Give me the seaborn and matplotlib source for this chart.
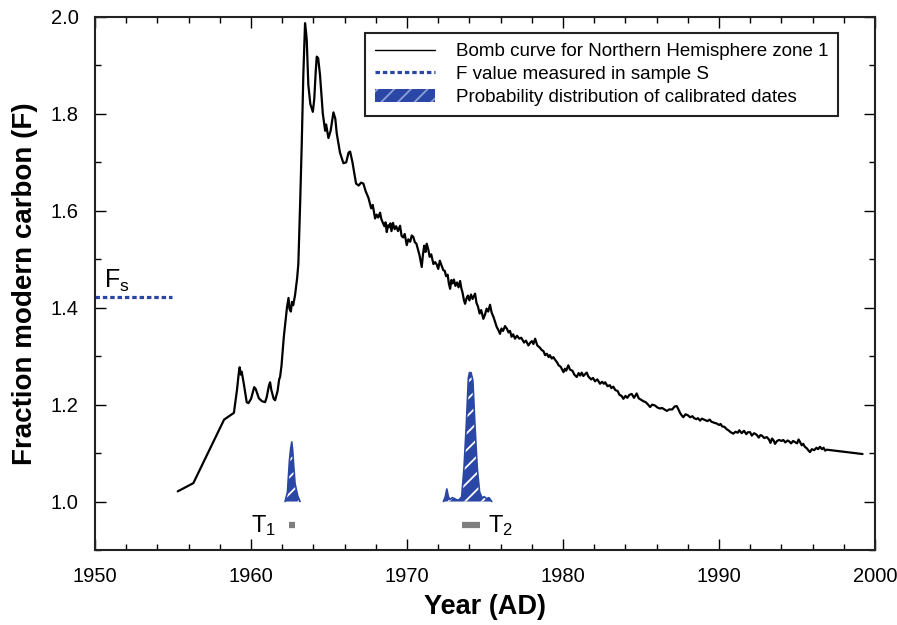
import numpy as np
import pandas as pd
import matplotlib
matplotlib.use("Agg")
import matplotlib.pyplot as plt
from matplotlib.lines import Line2D
from matplotlib.patches import Patch
from matplotlib.ticker import MultipleLocator
import seaborn as sns

# bomb curve, northern hemisphere zone 1
year = [1955.3, 1956.3, 1958.27, 1958.9, 1959.1, 1959.2, 1959.27, 1959.33, 1959.4, 1959.55,
        1959.72, 1959.83, 1960.0, 1960.2, 1960.3, 1960.5, 1960.7, 1960.9, 1961.0, 1961.15,
        1961.22, 1961.3, 1961.45, 1961.54, 1961.7, 1961.8, 1961.86, 1961.95, 1962.1, 1962.2,
        1962.3, 1962.4, 1962.46, 1962.55, 1962.62, 1962.7, 1962.82, 1962.95, 1963.03, 1963.15,
        1963.25, 1963.35, 1963.46, 1963.52, 1963.57, 1963.67, 1963.8, 1963.96, 1964.05, 1964.15,
        1964.21, 1964.3, 1964.42, 1964.6, 1964.75, 1964.81, 1964.96, 1965.1, 1965.28, 1965.4,
        1965.49, 1965.7, 1965.92, 1966.1, 1966.25, 1966.35, 1966.5, 1966.73, 1966.9, 1967.05,
        1967.2, 1967.35, 1967.52, 1967.62, 1967.7, 1967.8, 1967.95, 1968.05, 1968.15, 1968.27,
        1968.35, 1968.45, 1968.55, 1968.62, 1968.7, 1968.78, 1968.85, 1968.93, 1969.0, 1969.1,
        1969.2, 1969.3, 1969.42, 1969.55, 1969.65, 1969.75, 1969.85, 1969.98, 1970.08, 1970.2,
        1970.3, 1970.4, 1970.5, 1970.6, 1970.7, 1970.8, 1970.94, 1971.02, 1971.1, 1971.18,
        1971.26, 1971.36, 1971.45, 1971.55, 1971.69, 1971.8, 1971.9, 1972.0, 1972.1, 1972.2,
        1972.33, 1972.42, 1972.5, 1972.6, 1972.68, 1972.76, 1972.84, 1972.92, 1973.0, 1973.1,
        1973.2, 1973.3, 1973.4, 1973.48, 1973.55, 1973.65, 1973.72, 1973.82, 1973.9, 1974.0,
        1974.1, 1974.2, 1974.36, 1974.45, 1974.55, 1974.65, 1974.75, 1974.89, 1975.0, 1975.1,
        1975.2, 1975.32, 1975.42, 1975.55, 1975.65, 1975.75, 1975.85, 1975.96, 1976.05, 1976.15,
        1976.28, 1976.41, 1976.5, 1976.6, 1976.7, 1976.8, 1976.92, 1977.05, 1977.2, 1977.32,
        1977.5, 1977.62, 1977.78, 1977.9, 1978.0, 1978.1, 1978.21, 1978.35, 1978.5, 1978.62,
        1978.75, 1978.85, 1978.96, 1979.08, 1979.15, 1979.28, 1979.38, 1979.5, 1979.6, 1979.72,
        1979.85, 1979.95, 1980.03, 1980.12, 1980.2, 1980.34, 1980.45, 1980.6, 1980.72, 1980.88,
        1981.0, 1981.1, 1981.2, 1981.3, 1981.42, 1981.52, 1981.62, 1981.8, 1981.92, 1982.05,
        1982.2, 1982.37, 1982.5, 1982.62, 1982.7, 1982.85, 1983.0, 1983.1, 1983.22, 1983.35,
        1983.5, 1983.62, 1983.75, 1983.87, 1984.0, 1984.12, 1984.25, 1984.4, 1984.55, 1984.72,
        1984.85, 1985.0, 1985.15, 1985.3, 1985.45, 1985.58, 1985.72, 1985.9, 1986.05, 1986.2,
        1986.35, 1986.5, 1986.65, 1986.8, 1987.0, 1987.15, 1987.29, 1987.4, 1987.5, 1987.6,
        1987.71, 1987.85, 1988.0, 1988.15, 1988.3, 1988.4, 1988.55, 1988.65, 1988.78, 1988.9,
        1989.1, 1989.25, 1989.4, 1989.5, 1989.65, 1989.85, 1990.0, 1990.1, 1990.2, 1990.35,
        1990.5, 1990.6, 1990.75, 1990.92, 1991.05, 1991.2, 1991.3, 1991.45, 1991.6, 1991.75,
        1991.85, 1991.99, 1992.1, 1992.25, 1992.4, 1992.55, 1992.65, 1992.75, 1992.9, 1993.06,
        1993.2, 1993.3, 1993.4, 1993.5, 1993.59, 1993.72, 1993.85, 1994.0, 1994.12, 1994.25,
        1994.4, 1994.5, 1994.62, 1994.75, 1994.85, 1995.0, 1995.1, 1995.19, 1995.3, 1995.4,
        1995.5, 1995.62, 1995.72, 1995.83, 1995.95, 1996.1, 1996.25, 1996.35, 1996.47, 1996.6,
        1996.7, 1996.8, 1996.9, 1999.2]
fmc = [1.021, 1.038, 1.169, 1.183, 1.231, 1.262, 1.277, 1.262, 1.268, 1.24,
       1.205, 1.203, 1.212, 1.236, 1.232, 1.213, 1.207, 1.205, 1.215, 1.24,
       1.246, 1.23, 1.212, 1.209, 1.228, 1.252, 1.257, 1.28, 1.34, 1.37,
       1.40, 1.42, 1.398, 1.392, 1.412, 1.405, 1.426, 1.46, 1.49, 1.62,
       1.74, 1.88, 1.987, 1.97, 1.952, 1.86, 1.82, 1.804, 1.83, 1.89,
       1.918, 1.915, 1.88, 1.80, 1.765, 1.778, 1.75, 1.765, 1.803, 1.79,
       1.76, 1.72, 1.698, 1.70, 1.72, 1.722, 1.70, 1.656, 1.652, 1.658,
       1.656, 1.64, 1.627, 1.615, 1.605, 1.612, 1.584, 1.592, 1.586, 1.596,
       1.583, 1.575, 1.568, 1.576, 1.556, 1.57, 1.566, 1.574, 1.558, 1.575,
       1.562, 1.568, 1.558, 1.569, 1.548, 1.545, 1.552, 1.529, 1.541, 1.536,
       1.549, 1.546, 1.535, 1.532, 1.52, 1.508, 1.484, 1.51, 1.528, 1.515,
       1.532, 1.52, 1.505, 1.51, 1.49, 1.494, 1.489, 1.48, 1.497, 1.488,
       1.477, 1.476, 1.465, 1.468, 1.45, 1.439, 1.457, 1.45, 1.458, 1.445,
       1.452, 1.442, 1.455, 1.44, 1.432, 1.415, 1.408, 1.42, 1.425, 1.415,
       1.427, 1.418, 1.429, 1.41, 1.402, 1.388, 1.395, 1.377, 1.386, 1.398,
       1.392, 1.406, 1.39, 1.38, 1.37, 1.36, 1.354, 1.346, 1.357, 1.352,
       1.362, 1.356, 1.349, 1.352, 1.34, 1.345, 1.336, 1.342, 1.336, 1.338,
       1.328, 1.332, 1.322, 1.328, 1.331, 1.325, 1.336, 1.322, 1.318, 1.313,
       1.31, 1.302, 1.305, 1.298, 1.302, 1.295, 1.298, 1.292, 1.288, 1.281,
       1.278, 1.272, 1.267, 1.274, 1.27, 1.281, 1.272, 1.27, 1.262, 1.257,
       1.265, 1.26, 1.266, 1.259, 1.263, 1.266, 1.258, 1.252, 1.255, 1.248,
       1.252, 1.243, 1.247, 1.243, 1.246, 1.238, 1.24, 1.234, 1.237, 1.23,
       1.228, 1.22, 1.218, 1.212, 1.218, 1.214, 1.22, 1.222, 1.214, 1.223,
       1.213, 1.21, 1.207, 1.205, 1.2, 1.195, 1.2, 1.198, 1.194, 1.192,
       1.193, 1.19, 1.187, 1.19, 1.19, 1.196, 1.197, 1.19, 1.183, 1.178,
       1.174, 1.18, 1.178, 1.174, 1.176, 1.172, 1.17, 1.172, 1.167, 1.171,
       1.168, 1.166, 1.169, 1.165, 1.163, 1.161, 1.158, 1.16, 1.155, 1.154,
       1.149, 1.147, 1.143, 1.14, 1.144, 1.142, 1.147, 1.141, 1.146, 1.139,
       1.143, 1.143, 1.136, 1.141, 1.138, 1.132, 1.137, 1.136, 1.131, 1.133,
       1.128, 1.121, 1.13, 1.126, 1.119, 1.125, 1.127, 1.125, 1.127, 1.122,
       1.126, 1.124, 1.12, 1.125, 1.123, 1.12, 1.128, 1.123, 1.116, 1.119,
       1.113, 1.11, 1.106, 1.102, 1.108, 1.106, 1.111, 1.108, 1.113, 1.108,
       1.111, 1.105, 1.107, 1.098]

# calibrated date probability distributions (drawn from F = 1.0)
t1_year = [1962.18, 1962.33, 1962.46, 1962.54, 1962.61, 1962.67, 1962.71, 1962.82, 1962.99, 1963.14]
t1_prob = [1.0, 1.019, 1.085, 1.11, 1.123, 1.105, 1.085, 1.037, 1.012, 1.0]
t2_year = [1972.33, 1972.45, 1972.55, 1972.65, 1972.75, 1972.9, 1973.05, 1973.2, 1973.35, 1973.5,
           1973.65, 1973.8, 1973.93, 1974.0, 1974.1, 1974.22, 1974.35, 1974.5, 1974.65, 1974.8,
           1974.95, 1975.1, 1975.25, 1975.43]
t2_prob = [1.0, 1.01, 1.026, 1.01, 1.004, 1.008, 1.006, 1.003, 1.004, 1.01,
           1.07, 1.16, 1.255, 1.266, 1.266, 1.25, 1.16, 1.07, 1.02, 1.008,
           1.01, 1.006, 1.008, 1.0]

fs_value = 1.421
t1_range = [1962.45, 1962.8]
t2_range = [1973.5, 1974.7]

blue = "#2b47a6"

sns.set_style("ticks")
plt.rcParams["font.family"] = ["Liberation Sans", "DejaVu Sans"]
plt.rcParams["mathtext.fontset"] = "custom"
plt.rcParams["mathtext.rm"] = "Liberation Sans"
plt.rcParams["mathtext.it"] = "Liberation Sans"
plt.rcParams["hatch.linewidth"] = 1.3
plt.rcParams["text.color"] = "black"
plt.rcParams["axes.labelcolor"] = "black"
plt.rcParams["xtick.color"] = "black"
plt.rcParams["ytick.color"] = "black"

fig = plt.figure(figsize=(8.97, 6.25), dpi=100)
ax = fig.add_axes([0.106, 0.12, 0.8695, 0.853])

curve = pd.DataFrame({"year": year, "F": fmc})
sns.lineplot(data=curve, x="year", y="F", color="black", lw=1.6, ax=ax)

# probability peaks: blue fill, white hatch on top
for xs, ys in [(t1_year, t1_prob), (t2_year, t2_prob)]:
    ax.fill_between(xs, 1.0, ys, facecolor=blue, edgecolor="none", zorder=3)
    ax.fill_between(xs, 1.0, ys, facecolor="none", edgecolor="white", hatch="//", lw=0, zorder=4)
    ax.plot(xs, ys, color=blue, lw=1.2, zorder=5)

# measured F in sample S
ax.plot([1950, 1954.9], [fs_value, fs_value], color=blue, lw=2.3,
        linestyle=(0, (1.4, 0.9)), solid_capstyle="butt")
ax.text(1951.4, 1.455, r"F$_\mathrm{s}$", fontsize=18, ha="center", va="center")

# date ranges
for rng in [t1_range, t2_range]:
    ax.plot(rng, [0.951, 0.951], color="#7f7f7f", lw=4.5, solid_capstyle="butt")
ax.text(1961.6, 0.950, r"T$_\mathrm{1}$", fontsize=17, ha="right", va="center")
ax.text(1975.2, 0.950, r"T$_\mathrm{2}$", fontsize=17, ha="left", va="center")

ax.set_xlim(1950, 2000)
ax.set_ylim(0.9, 2.0)
ax.set_yticks([1.0, 1.2, 1.4, 1.6, 1.8, 2.0])
ax.set_yticklabels(["1.0", "1.2", "1.4", "1.6", "1.8", "2.0"])
ax.xaxis.set_major_locator(MultipleLocator(10))
ax.xaxis.set_minor_locator(MultipleLocator(2))
ax.yaxis.set_minor_locator(MultipleLocator(0.1))
ax.tick_params(which="both", direction="in", top=True, right=True, width=1.0)
ax.tick_params(which="major", length=8, labelsize=14.5, pad=12)
ax.tick_params(which="minor", length=4.5)
for s in ax.spines.values():
    s.set_linewidth(1.5)
    s.set_color("#222222")

ax.set_xlabel("Year (AD)", fontsize=19.5, fontweight="bold", labelpad=6)
ax.set_ylabel("Fraction modern carbon (F)", fontsize=20, fontweight="bold", labelpad=9)

handles = [Line2D([], [], color="black", lw=1.0),
           Line2D([], [], color=blue, lw=2.3, linestyle=(0, (1.4, 0.9))),
           Patch(facecolor=blue, edgecolor="#8fa0d8", hatch="//", lw=0)]
labels = ["Bomb curve for Northern Hemisphere zone 1",
          "F value measured in sample S",
          "Probability distribution of calibrated dates"]
leg = ax.legend(handles, labels, loc="upper right", bbox_to_anchor=(0.953, 0.970),
                fontsize=13.5, frameon=True, fancybox=False, edgecolor="#222222",
                framealpha=1, handlelength=3.2, handletextpad=1.1, labelspacing=0.3,
                borderpad=0.55, borderaxespad=0)
leg.get_frame().set_linewidth(1.5)

fig.savefig("out.png", dpi=100)
